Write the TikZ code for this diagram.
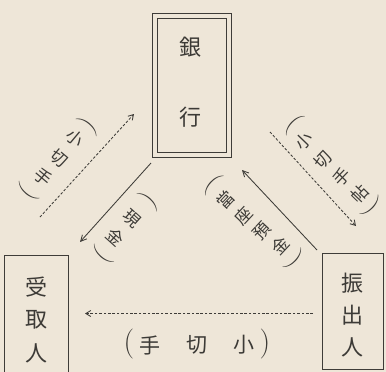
\documentclass[tikz,border=0pt]{standalone}
\usepackage{fontspec}
\newfontfamily\jp{Noto Sans CJK JP}
\usetikzlibrary{arrows.meta}
\definecolor{bgc}{RGB}{238,230,216}
\definecolor{inkc}{RGB}{62,60,56}
\definecolor{textc}{RGB}{60,58,54}
\tikzset{
  ink/.style={draw=inkc, line width=0.85pt},
  dasharrow/.style={ink, dash pattern=on 2.6pt off 1.8pt, -{Straight Barb[length=5pt,width=6pt]}},
  solidarrow/.style={ink, -{Straight Barb[length=6pt,width=6pt]}},
  boxtext/.style={font=\jp\fontsize{22}{22}\selectfont, text=textc, inner sep=0pt},
  jlab/.style={font=\jp\fontsize{17}{17}\selectfont, text=textc, inner sep=0pt},
  plab/.style={font=\fontsize{27}{27}\selectfont, text=textc, inner sep=0pt},
  hlab/.style={font=\jp\fontsize{21}{21}\selectfont, text=textc, inner sep=0pt},
  hpar/.style={font=\fontsize{30}{30}\selectfont, text=textc, inner sep=0pt},
}
\begin{document}
\begin{tikzpicture}[x=1pt,y=-1pt]
\fill[bgc] (0,0) rectangle (386,372);
\useasboundingbox (0,0) rectangle (386,372);
% boxes
\node[ink, minimum width=79pt, minimum height=144pt] (bank) at (191.5,85) {};
\node[ink, minimum width=69pt, minimum height=134pt] (bankin) at (191.5,85) {};
\node[boxtext] (bank1) at (190,47) {銀};
\node[boxtext] (bank2) at (190,117) {行};
\node[ink, minimum width=64pt, minimum height=140pt] (recv) at (36,325) {};
\node[boxtext] (recv1) at (36,287) {受};
\node[boxtext] (recv2) at (36,320) {取};
\node[boxtext] (recv3) at (36,353) {人};
\node[ink, minimum width=61pt, minimum height=116pt] (payer) at (352.5,311) {};
\node[boxtext] (payer1) at (352,283) {振};
\node[boxtext] (payer2) at (352,315) {出};
\node[boxtext] (payer3) at (352,347) {人};
% connector end points
\coordinate (la) at (40,217);
\coordinate (lb) at (134,114);
\coordinate (ma) at (151,163);
\coordinate (mb) at (80,242);
\coordinate (ra) at (270,132);
\coordinate (rb) at (356,226);
\coordinate (sa) at (317,250);
\coordinate (sb) at (242,170);
\coordinate (ha) at (313,313.5);
\coordinate (hb) at (85,313.5);
\draw[dasharrow] (la) -- (lb);
\draw[solidarrow] (ma) -- (mb);
\draw[dasharrow] (ra) -- (rb);
\draw[solidarrow] (sa) -- (sb);
\draw[dasharrow] (ha) -- (hb);
% left upper label (小切手)
\node[plab, rotate=230] (l0) at (89,125) {(};
\node[jlab, rotate=-40] (l1) at (75,138) {小};
\node[jlab, rotate=-40] (l2) at (59,158) {切};
\node[jlab, rotate=-40] (l3) at (43,177) {手};
\node[plab, rotate=230] (l4) at (28,192) {)};
% left lower label (現金)
\node[plab, rotate=228] (m0) at (149,201) {(};
\node[jlab, rotate=-42] (m1) at (132,219) {現};
\node[jlab, rotate=-42] (m2) at (115,237) {金};
\node[plab, rotate=228] (m3) at (102,256) {)};
% right upper label (小切手帖)
\node[plab, rotate=-44] (r0) at (294,124) {(};
\node[jlab, rotate=46] (r1) at (304,141) {小};
\node[jlab, rotate=46] (r2) at (323,160) {切};
\node[jlab, rotate=46] (r3) at (342,177) {手};
\node[jlab, rotate=46] (r4) at (360,194) {帖};
\node[plab, rotate=-44] (r5) at (372,207) {)};
% right lower label (當座預金)
\node[plab, rotate=-43] (s0) at (213,184) {(};
\node[jlab, rotate=47] (s1) at (226,200) {當};
\node[jlab, rotate=47] (s2) at (244,216) {座};
\node[jlab, rotate=47] (s3) at (262,231) {預};
\node[jlab, rotate=47] (s4) at (280,246) {金};
\node[plab, rotate=-43] (s5) at (295,260) {)};
% horizontal label (手 切 小)
\node[hpar] (h0) at (129,344) {(};
\node[hlab] (h1) at (150,345) {手};
\node[hlab] (h2) at (197,345) {切};
\node[hlab] (h3) at (244,345) {小};
\node[hpar] (h4) at (265,344) {)};
\end{tikzpicture}
\end{document}
